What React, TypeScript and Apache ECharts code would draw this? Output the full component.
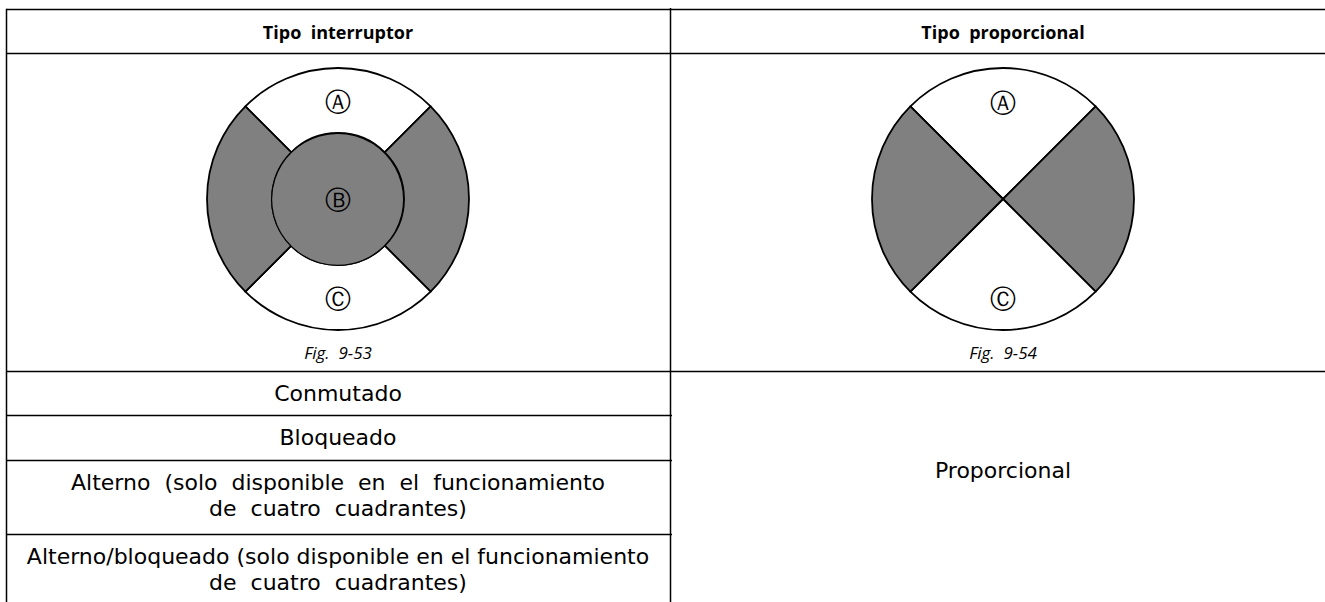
import React, { useEffect, useRef } from "react";
import * as echarts from "echarts";

// ---- data ----
const headers = ["Tipo  interruptor", "Tipo  proporcional"];
const figCaptions = ["Fig.  9-53", "Fig.  9-54"];
const leftRows: string[][] = [
  ["Conmutado"],
  ["Bloqueado"],
  ["Alterno  (solo  disponible  en  el  funcionamiento", "de  cuatro  cuadrantes)"],
  ["Alterno/bloqueado (solo disponible en el funcionamiento", "de  cuatro  cuadrantes)"],
];
const rightRows = ["Proporcional"];
const quadrantNames = ["A", "derecha", "C", "izquierda"];
const quadrantValues = [1, 1, 1, 1];
const quadrantColors = ["#ffffff", "#808080", "#ffffff", "#808080"];
const switchLabels = ["Ⓐ", "Ⓑ", "Ⓒ"];
const propLabels = ["Ⓐ", "Ⓒ"];

const FONT = "'Open Sans', 'Noto Sans', sans-serif";
const BODY_FONT = "'DejaVu Sans', sans-serif";

export default function App() {
  const ref = useRef<HTMLDivElement>(null);
  useEffect(() => {
    if (!ref.current) return;
    const chart = echarts.init(ref.current, null, { renderer: "svg" });

    const W = 1325;
    const L = 6.5;
    const MID = 670.5;
    const yTop = 9.5;
    const yHead = 53.5;
    const yFig = 371.5;
    const rowLines = [415.5, 460.5, 534.5];
    const leftCx = 338;
    const rightCx = 1003;
    const cy = 199;
    const R = 131;
    const r0 = 66;
    const lineStyle = { stroke: "#000", lineWidth: 1.5 };

    const hLine = (x1: number, x2: number, y: number) => ({
      type: "line",
      shape: { x1, y1: y, x2, y2: y },
      style: lineStyle,
      silent: true,
    });
    const vLine = (x: number, y1: number, y2: number) => ({
      type: "line",
      shape: { x1: x, y1, x2: x, y2 },
      style: lineStyle,
      silent: true,
    });
    const txt = (x: number, y: number, text: string, extra: any = {}) => ({
      type: "text",
      x,
      y,
      silent: true,
      style: {
        text,
        x: 0,
        y: 0,
        align: "center",
        verticalAlign: "middle",
        fill: "#000",
        fontFamily: BODY_FONT,
        fontSize: 22,
        lineHeight: 24,
        ...extra,
      },
    });

    const rowCenters = [393.5, 437.5, 495, 569];
    const LINE_GAP = 26;
    const circled = { fontFamily: "'DejaVu Sans'", fontSize: 26, lineHeight: 26 };

    const rowTexts: any[] = [];
    leftRows.forEach((lines, i) => {
      const top = rowCenters[i] - ((lines.length - 1) * LINE_GAP) / 2;
      lines.forEach((ln, j) => rowTexts.push(txt(leftCx, top + j * LINE_GAP, ln)));
    });

    const graphics: any[] = [
      hLine(L, W, yTop),
      hLine(L, W, yHead),
      hLine(L, W, yFig),
      ...rowLines.map((y) => hLine(L, MID + 1.5, y)),
      vLine(L, yTop - 0.75, 602),
      vLine(MID, 8, 602),
      txt(leftCx, 31.5, headers[0], { fontFamily: FONT, fontWeight: "bold", fontSize: 18, lineHeight: 20 }),
      txt(rightCx, 31.5, headers[1], { fontFamily: FONT, fontWeight: "bold", fontSize: 18, lineHeight: 20 }),
      txt(leftCx, 352, figCaptions[0], { fontFamily: FONT, fontStyle: "italic", fontSize: 17, lineHeight: 18 }),
      txt(rightCx, 352, figCaptions[1], { fontFamily: FONT, fontStyle: "italic", fontSize: 17, lineHeight: 18 }),
      ...rowTexts,
      txt(rightCx, 470, rightRows[0]),
      txt(leftCx, 102, switchLabels[0], circled),
      txt(leftCx, 200, switchLabels[1], circled),
      txt(leftCx, 299, switchLabels[2], circled),
      txt(rightCx, 103, propLabels[0], circled),
      txt(rightCx, 299, propLabels[1], circled),
    ];

    const pieData = quadrantValues.map((v, i) => ({
      name: quadrantNames[i],
      value: v,
      itemStyle: { color: quadrantColors[i] },
    }));

    const pieBase = {
      type: "pie",
      silent: true,
      startAngle: 135,
      clockwise: true,
      label: { show: false },
      labelLine: { show: false },
      itemStyle: { borderColor: "#000", borderWidth: 1.8 },
      emphasis: { disabled: true },
      z: 1,
    };

    chart.setOption({
      animation: false,
      backgroundColor: "#ffffff",
      series: [
        { ...pieBase, center: [leftCx, cy], radius: [r0, R], data: pieData },
        {
          ...pieBase,
          center: [leftCx, cy],
          radius: [0, r0],
          itemStyle: { borderColor: "#000", borderWidth: 1.2 },
          data: [{ name: "B", value: 1, itemStyle: { color: "#808080" } }],
        },
        { ...pieBase, center: [rightCx, cy], radius: [0, R], data: pieData },
      ],
      graphic: { elements: graphics.map((g) => ({ ...g, z: 10 })) },
    });

    return () => chart.dispose();
  }, []);

  return (
    <div
      ref={ref}
      style={{ position: "fixed", left: 0, top: 0, width: 1325, height: 602, background: "#fff" }}
    />
  );
}
